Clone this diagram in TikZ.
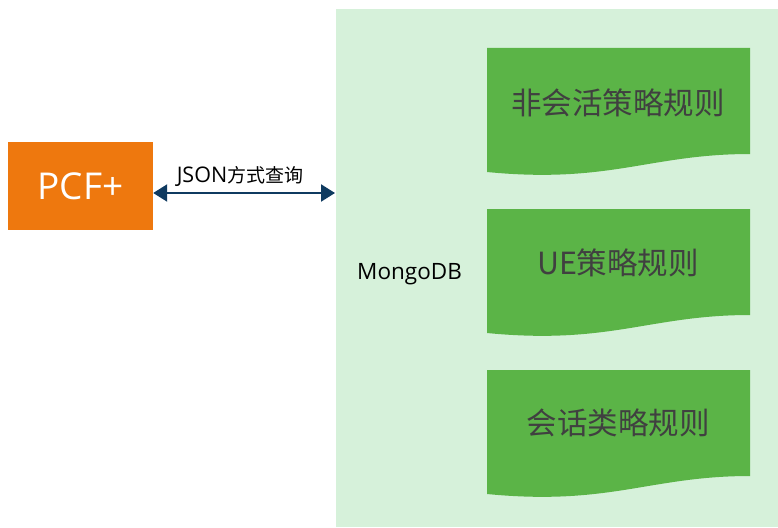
\documentclass[tikz,border=0pt]{standalone}
\usepackage{fontspec}
\newfontfamily\cjk{Noto Sans CJK SC}
\newfontfamily\latinsans{Open Sans}
\usetikzlibrary{arrows.meta}
\definecolor{panelgreen}{HTML}{D6F1DA}
\definecolor{docgreen}{HTML}{5BB447}
\definecolor{pcforange}{HTML}{EE780E}
\definecolor{arrowblue}{HTML}{0F3A60}
\definecolor{doctext}{HTML}{404040}
\tikzset{
  docshape/.style={fill=docgreen, draw=none},
  doclabel/.style={text=doctext, font=\cjk\fontsize{30.5}{34}\selectfont, inner sep=0pt},
  smalllabel/.style={text=black, inner sep=0pt},
}
\begin{document}
\begin{tikzpicture}[x=1pt,y=-1pt]
\useasboundingbox (0,0) rectangle (778,527);
% panel
\node[fill=panelgreen, draw=none, minimum width=442pt, minimum height=518pt, inner sep=0pt, anchor=north west] (panel) at (336,9) {};
% PCF+ box
\node[fill=pcforange, draw=none, minimum width=145pt, minimum height=88pt, inner sep=0pt, text=white, font=\latinsans\fontsize{37}{40}\selectfont] (pcf) at (80.5,186) {PCF+};
% arrow
\coordinate (aright) at (335,193);
\draw[arrowblue, line width=2.2pt, {Triangle[length=14pt,width=17pt]}-{Triangle[length=14pt,width=17pt]}] (pcf.east |- aright) -- (aright);
\node[smalllabel, anchor=base] (json) at (240,182) {{\latinsans\fontsize{21.5}{22}\selectfont JSON}{\cjk\fontsize{19}{22}\selectfont 方式查询}};
\node[smalllabel, anchor=base west, font=\latinsans\fontsize{22.5}{24}\selectfont] (mongo) at (357,279) {MongoDB};
% documents
\foreach \y/\name in {48/d1, 209/d2, 370/d3}{
  \fill[docshape] (487,\y) -- (750,\y) -- (750,\y+106) .. controls (650,\y+106) and (610,\y+136) .. (487,\y+124) -- cycle;
}
\node[doclabel] (t1) at (618,103) {非会活策略规则};
\node[doclabel] (t2) at (618,263) {UE策略规则};
\node[doclabel] (t3) at (618,423) {会话类略规则};
\end{tikzpicture}
\end{document}
